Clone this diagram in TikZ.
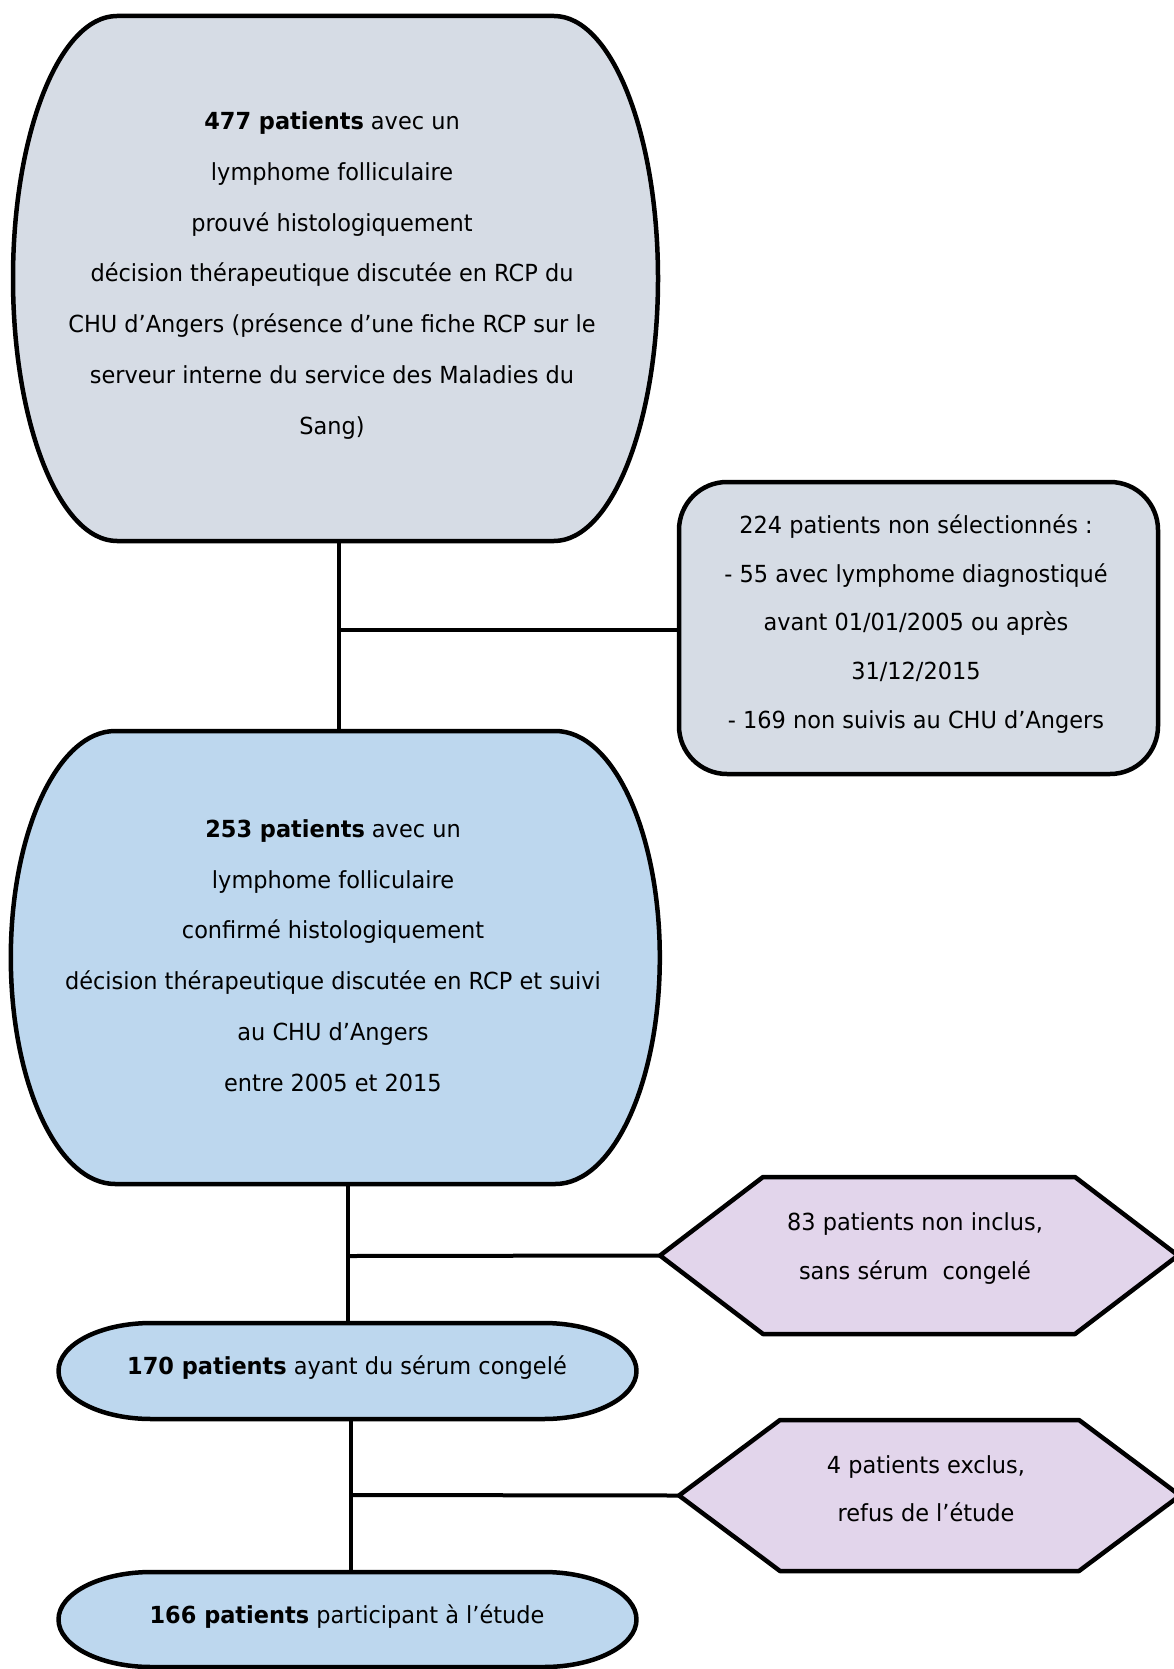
\documentclass[tikz,border=0pt]{standalone}
\usepackage{fontspec}
\setmainfont{DejaVu Sans}[FakeStretch=0.955]
\usetikzlibrary{calc}
\definecolor{grayblue}{HTML}{D6DCE5}
\definecolor{lightblue}{HTML}{BDD7EE}
\definecolor{lavender}{HTML}{E2D5EB}
\newcommand\mytermpath[3]{([xshift=#2]#1.north west) -- ([xshift=-#2]#1.north east) arc[start angle=90,end angle=-90,x radius=#2,y radius=#3] -- ([xshift=#2]#1.south west) arc[start angle=270,end angle=90,x radius=#2,y radius=#3] -- cycle}
\newcommand\myhexpath[2]{(#1.west) -- ([xshift=#2]#1.north west) -- ([xshift=-#2]#1.north east) -- (#1.east) -- ([xshift=-#2]#1.south east) -- ([xshift=#2]#1.south west) -- cycle}
\begin{document}
\begin{tikzpicture}[x=1pt,y=1pt,
  box/.style={draw=none,fill=none,inner sep=0pt,outer sep=0pt},
  txt/.style={align=center,font=\fontsize{23.5}{50.7}\selectfont,inner sep=0pt},
  border/.style={line width=4.5pt,draw=black,line join=round},
  conn/.style={line width=4pt,draw=black}]
\useasboundingbox[fill=white] (0,0) rectangle (1173,-1669);
% geometry nodes
\node[box,minimum width=645pt,minimum height=525pt] (n477) at (335.5,-278.5) {};
\node[box,minimum width=479pt,minimum height=292pt] (n224) at (918.5,-628) {};
\node[box,minimum width=649pt,minimum height=453pt] (n253) at (335.3,-957.5) {};
\node[box,minimum width=518pt,minimum height=157pt] (n83) at (919,-1255.5) {};
\node[box,minimum width=578pt,minimum height=96pt] (n170) at (347.5,-1371) {};
\node[box,minimum width=501pt,minimum height=151pt] (n4) at (929.5,-1495.5) {};
\node[box,minimum width=578pt,minimum height=95pt] (n166) at (347.5,-1619.5) {};
% connectors
\coordinate (j1) at (338.5,-630);
\draw[conn] (j1 |- n477.south) -- (j1 |- n253.north);
\draw[conn] (j1) -- (j1 -| n224.west);
\coordinate (j2) at (348,-1256);
\draw[conn] (j2 |- n253.south) -- (j2 |- n170.north);
\draw[conn] (j2) -- (n83.west);
\coordinate (j3) at (351,-1495);
\draw[conn] (j3 |- n170.south) -- (j3 |- n166.north);
\draw[conn] (j3) -- (n4.west);
% shapes
\draw[border,fill=grayblue] \mytermpath{n477}{104pt}{262.5pt};
\draw[border,fill=grayblue,rounded corners=48pt] (n224.north west) rectangle (n224.south east);
\draw[border,fill=lightblue] \mytermpath{n253}{104.5pt}{226.5pt};
\draw[border,fill=lavender] \myhexpath{n83}{103pt};
\draw[border,fill=lightblue] \mytermpath{n170}{93pt}{48pt};
\draw[border,fill=lavender] \myhexpath{n4}{101pt};
\draw[border,fill=lightblue] \mytermpath{n166}{93pt}{47.5pt};
% texts
\node[txt] (t477) at (332,-275.5) {\textbf{477 patients} avec un\\lymphome folliculaire\\prouvé histologiquement\\décision thérapeutique discutée en RCP du\\CHU d’Angers (présence d’une fiche RCP sur le\\serveur interne du service des Maladies du\\Sang)};
\node[txt,font=\fontsize{23.5}{48.7}\selectfont] (t224) at (916,-624) {224 patients non sélectionnés :\\- 55 avec lymphome diagnostiqué\\avant 01/01/2005 ou après\\31/12/2015\\- 169 non suivis au CHU d’Angers};
\node[txt] (t253) at (333,-955.5) {\textbf{253 patients} avec un\\lymphome folliculaire\\confirmé histologiquement\\décision thérapeutique discutée en RCP et suivi\\au CHU d’Angers\\entre 2005 et 2015};
\node[txt,font=\fontsize{23.5}{48.7}\selectfont] (t83) at (915,-1248.5) {83 patients non inclus,\\sans sérum\ \ congelé};
\node[txt] (t170) at (347,-1367.6) {\textbf{170 patients} ayant du sérum congelé};
\node[txt,font=\fontsize{23.5}{48}\selectfont] (t4) at (926,-1488.5) {4 patients exclus,\\refus de l’étude};
\node[txt] (t166) at (347,-1616.7) {\textbf{166 patients} participant à l’étude};
\end{tikzpicture}
\end{document}
